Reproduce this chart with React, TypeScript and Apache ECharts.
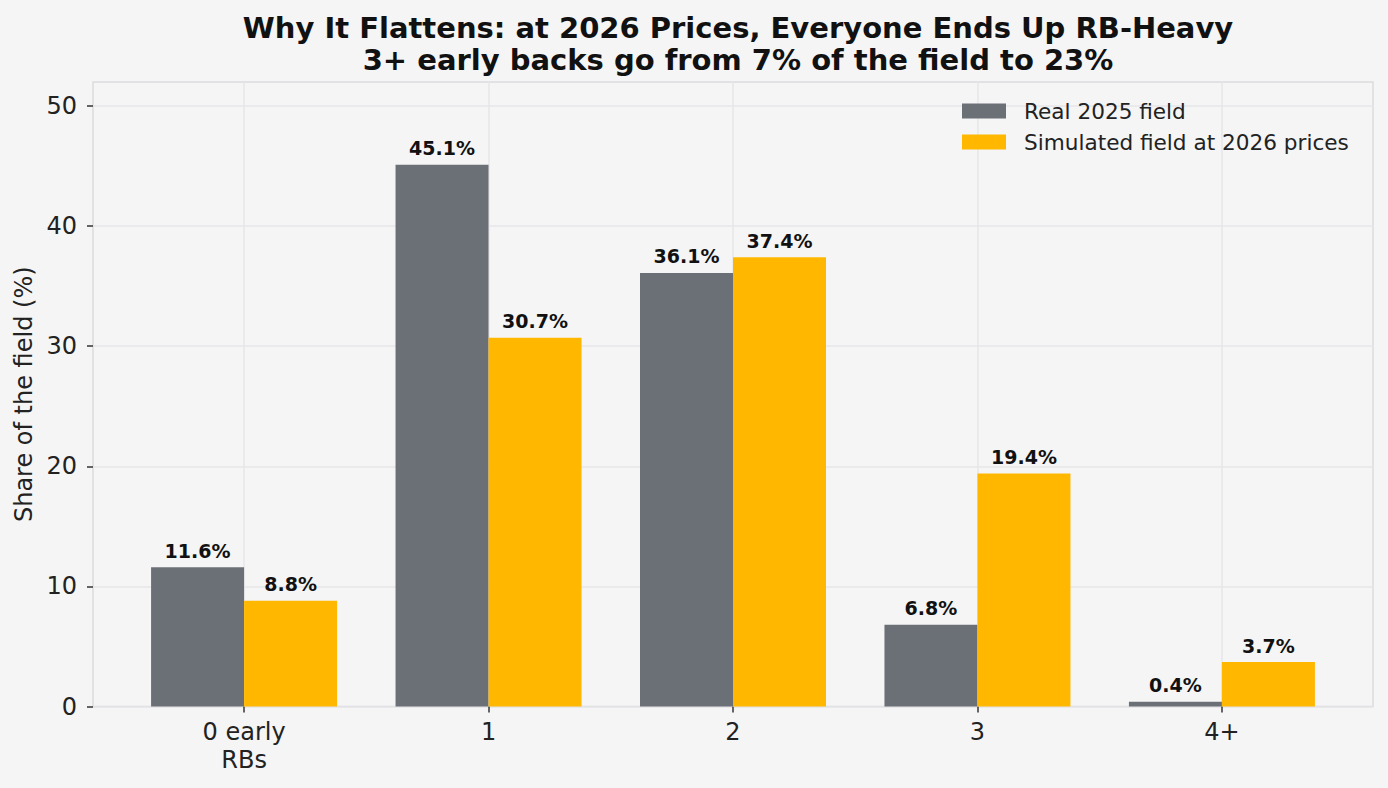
import React, { useEffect, useRef } from "react";
import * as echarts from "echarts";

const categories = ["0 early\nRBs", "1", "2", "3", "4+"];
const real2025 = [11.6, 45.1, 36.1, 6.8, 0.4];
const sim2026 = [8.8, 30.7, 37.4, 19.4, 3.7];
const yTicks = [0, 10, 20, 30, 40, 50];
const xTicks = [0, 1, 2, 3, 4];
const seriesNames = ["Real 2025 field", "Simulated field at 2026 prices"];
const titleText =
  "Why It Flattens: at 2026 Prices, Everyone Ends Up RB-Heavy\n3+ early backs go from 7% of the field to 23%";

const FONT = "DejaVu Sans";

export default function App() {
  const ref = useRef<HTMLDivElement>(null);
  useEffect(() => {
    document.body.style.margin = "0";
    document.body.style.background = "#f5f5f5";
    const chart = echarts.init(ref.current!, null, { renderer: "svg" });
    const label = {
      show: true,
      position: "top",
      distance: 7,
      fontFamily: FONT,
      fontWeight: "bold",
      fontSize: 19,
      color: "#111111",
      formatter: (p: any) => p.value[1].toFixed(1) + "%",
    };
    chart.setOption({
      animation: false,
      backgroundColor: "#f5f5f5",
      textStyle: { fontFamily: FONT },
      title: {
        text: titleText,
        left: 733,
        top: 7,
        textAlign: "center",
        textStyle: {
          fontFamily: FONT,
          fontWeight: "bold",
          fontSize: 29,
          lineHeight: 32,
          color: "#111111",
        },
      },
      legend: {
        orient: "vertical",
        left: 957,
        top: 94,
        itemWidth: 44,
        itemHeight: 15,
        itemGap: 7,
        icon: "rect",
        data: seriesNames,
        textStyle: {
          fontFamily: FONT,
          fontSize: 21.6,
          lineHeight: 24,
          color: "#222222",
          padding: [0, 0, 0, 13],
        },
      },
      grid: {
        left: 93,
        right: 15,
        top: 82,
        bottom: 81.5,
        show: true,
        borderColor: "#dcdce0",
        borderWidth: 1.5,
        backgroundColor: "#f5f5f5",
        containLabel: false,
      },
      xAxis: {
        type: "value",
        min: -0.618,
        max: 4.618,
        axisLine: { show: false, onZero: false },
        axisTick: {
          show: true,
          length: 6,
          lineStyle: { color: "#333333", width: 1.5 },
          customValues: xTicks,
        },
        splitLine: { show: true, lineStyle: { color: "#e6e6ea", width: 1.5 } },
        axisLabel: {
          customValues: xTicks,
          margin: 11,
          fontFamily: FONT,
          fontSize: 24,
          lineHeight: 28,
          color: "#222222",
          formatter: (v: number) => categories[Math.round(v)] ?? "",
        },
      },
      yAxis: {
        type: "value",
        min: 0,
        max: 52,
        name: "Share of the field (%)",
        nameLocation: "middle",
        nameGap: 55,
        nameTextStyle: { fontFamily: FONT, fontSize: 24, color: "#222222" },
        axisLine: { show: false, onZero: false },
        axisTick: {
          show: true,
          length: 6,
          lineStyle: { color: "#333333", width: 1.5 },
          customValues: yTicks,
        },
        splitLine: { show: true, lineStyle: { color: "#e6e6ea", width: 1.5 } },
        axisLabel: {
          customValues: yTicks,
          margin: 16,
          fontFamily: FONT,
          fontSize: 24,
          color: "#222222",
        },
      },
      series: [
        {
          name: seriesNames[0],
          type: "bar",
          barWidth: 93,
          barGap: "0%",
          itemStyle: { color: "#6b6f76" },
          label,
          data: real2025.map((v, i) => [i, v]),
        },
        {
          name: seriesNames[1],
          type: "bar",
          barWidth: 93,
          barGap: "0%",
          itemStyle: { color: "#ffb700" },
          label,
          data: sim2026.map((v, i) => [i, v]),
        },
      ],
    });
    return () => chart.dispose();
  }, []);
  return <div ref={ref} style={{ width: 1388, height: 788 }} />;
}
